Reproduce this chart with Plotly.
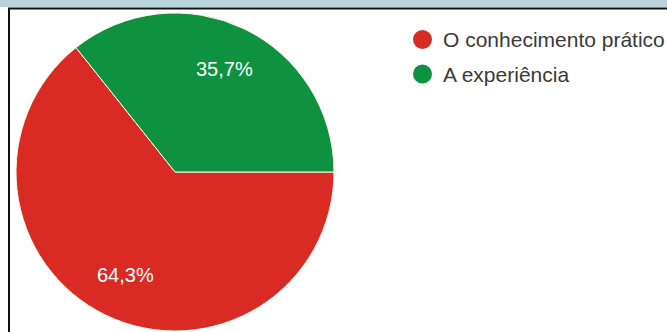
import math
import plotly.graph_objects as go

labels = ["O conhecimento prático", "A experiência"]
values = [64.3, 35.7]
colors = ["#d92b24", "#0f9240"]

W, H = 667, 332
# pie geometry (pixels)
CX0, CX1, CY0, CY1 = 16, 334, 13, 331
ROT = 90  # first slice starts at 3 o'clock, clockwise

fig = go.Figure()
fig.add_trace(go.Pie(
    labels=labels, values=values, sort=False, direction="clockwise", rotation=ROT,
    marker=dict(colors=colors, line=dict(color="#fff8e8", width=1)),
    textinfo="none", showlegend=False, hoverinfo="skip",
    domain=dict(x=[CX0/W, CX1/W], y=[1-CY1/H, 1-CY0/H]),
))

shapes = [
    dict(type="rect", xref="paper", yref="paper", x0=0, x1=1, y0=1-7/H, y1=1,
         fillcolor="#b9d3da", line=dict(width=0), layer="above"),
    dict(type="line", xref="paper", yref="paper", x0=8/W, x1=1, y0=1-8.5/H, y1=1-8.5/H,
         line=dict(color="#111", width=2), layer="above"),
    dict(type="line", xref="paper", yref="paper", x0=9/W, x1=9/W, y0=0, y1=1-8/H,
         line=dict(color="#111", width=2), layer="above"),
]
annotations = []

# percentage labels placed along each slice's mid-angle
cx, cy = (CX0 + CX1) / 2, (CY0 + CY1) / 2
R = (CX1 - CX0) / 2
total = sum(values)
start = 90 - ROT  # math angle (deg) of first slice start
for v in values:
    sweep = 360 * v / total
    mid = math.radians(start - sweep / 2)
    x = cx + 0.72 * R * math.cos(mid)
    y = cy - 0.72 * R * math.sin(mid)
    txt = f"{100 * v / total:.1f}%".replace(".", ",")
    annotations.append(dict(xref="paper", yref="paper", x=x/W, y=1-y/H,
                            xanchor="center", yanchor="middle", text=txt, showarrow=False,
                            font=dict(family="Arial", size=20, color="white")))
    start -= sweep

for i, (lab, col) in enumerate(zip(labels, colors)):
    ly = 39.5 + 34.5 * i
    shapes.append(dict(type="circle", xref="paper", yref="paper",
                       x0=413/W, x1=432/W, y0=1-(ly+9.5)/H, y1=1-(ly-9.5)/H,
                       fillcolor=col, line=dict(width=0)))
    annotations.append(dict(xref="paper", yref="paper", x=441/W, y=1-ly/H,
                            xanchor="left", yanchor="middle", text=lab, showarrow=False,
                            font=dict(family="Arial", size=21, color="#3a3a3a")))

fig.update_layout(
    width=W, height=H, margin=dict(l=0, r=0, t=0, b=0),
    paper_bgcolor="white", plot_bgcolor="white",
    shapes=shapes, annotations=annotations,
)
fig.write_html("out.html")
